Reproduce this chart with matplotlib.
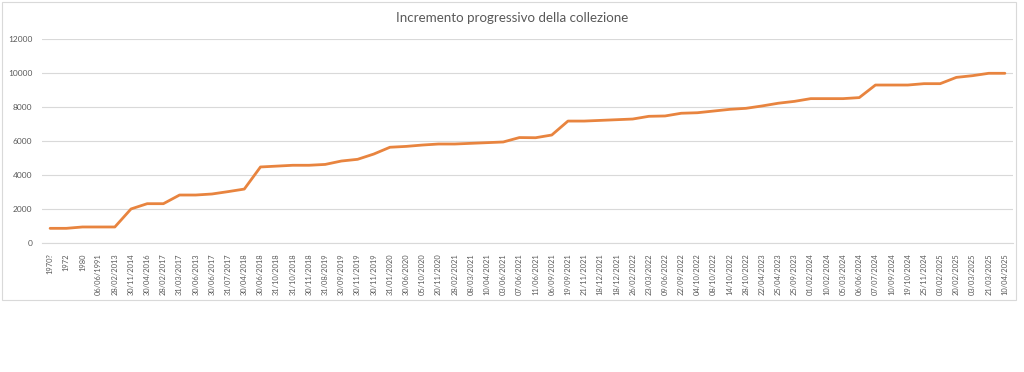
import matplotlib
matplotlib.use("Agg")
import matplotlib.pyplot as plt
from matplotlib.patches import Rectangle

title = "Incremento progressivo della collezione"

dates = [
    "1970?", "1972", "1980", "06/06/1991", "28/02/2013", "30/11/2014", "30/04/2016",
    "28/02/2017", "31/03/2017", "30/06/2013", "30/06/2017", "31/07/2017", "30/04/2018",
    "30/06/2018", "31/10/2018", "31/10/2018", "30/11/2018", "31/08/2019", "30/09/2019",
    "30/11/2019", "30/11/2019", "31/01/2020", "30/06/2020", "05/10/2020", "20/11/2020",
    "28/02/2021", "08/03/2021", "10/04/2021", "03/06/2021", "07/06/2021", "11/06/2021",
    "06/09/2021", "19/09/2021", "21/11/2021", "18/12/2021", "18/12/2021", "26/02/2022",
    "23/03/2022", "09/06/2022", "22/09/2022", "04/10/2022", "08/10/2022", "14/10/2022",
    "28/10/2022", "22/04/2023", "25/04/2023", "25/09/2023", "01/02/2024", "10/02/2024",
    "05/03/2024", "06/06/2024", "07/07/2024", "10/09/2024", "19/10/2024", "25/11/2024",
    "03/02/2025", "20/02/2025", "03/03/2025", "21/03/2025", "10/04/2025",
]

counts = [
    880, 880, 960, 960, 960, 2020, 2330,
    2330, 2840, 2840, 2900, 3040, 3190,
    4490, 4540, 4590, 4590, 4640, 4840,
    4940, 5250, 5650, 5700, 5780, 5840,
    5840, 5880, 5920, 5960, 6220, 6210,
    6370, 7190, 7190, 7230, 7270, 7310,
    7470, 7490, 7650, 7680, 7780, 7880,
    7940, 8080, 8240, 8350, 8510, 8510,
    8510, 8570, 9310, 9310, 9310, 9390,
    9390, 9760, 9860, 10000, 10000,
]

yticks = [0, 2000, 4000, 6000, 8000, 10000, 12000]

plt.rcParams["font.family"] = ["Lato", "DejaVu Sans"]

W, H = 1024, 372
fig = plt.figure(figsize=(W / 100, H / 100), dpi=100)
fig.patch.set_facecolor("white")

# chart-area border
fig.patches.append(Rectangle((2 / W, 1 - 300 / H), (1016 - 2) / W, (300 - 2) / H,
                             transform=fig.transFigure, fill=False,
                             edgecolor="#d9d9d9", linewidth=0.8))

left, right = 42 / W, 1013 / W
bottom, top = 1 - 243.3 / H, 1 - 39.3 / H
ax = fig.add_axes([left, bottom, right - left, top - bottom])

x = list(range(len(dates)))
ax.plot(x, counts, color="#E8843F", linewidth=2.0, solid_joinstyle="round",
        solid_capstyle="round", zorder=3)

ax.set_xlim(-0.5, len(dates) - 0.5)
ax.set_ylim(0, 12000)
ax.set_yticks(yticks)
ax.set_yticklabels([str(v) for v in yticks], fontsize=6, color="#595959")
ax.set_xticks(x)
ax.set_xticklabels(dates, rotation=90, fontsize=5.4, color="#595959")

ax.grid(axis="y", color="#d9d9d9", linewidth=0.8)
ax.set_axisbelow(True)
for s in ["top", "right", "left"]:
    ax.spines[s].set_visible(False)
ax.spines["bottom"].set_color("#d9d9d9")
ax.spines["bottom"].set_linewidth(0.8)
ax.tick_params(axis="both", length=0)
ax.tick_params(axis="y", pad=7)
ax.tick_params(axis="x", pad=7)

fig.text(512 / W, 1 - 18 / H, title, ha="center", va="center",
         fontsize=9.6, color="#595959")

fig.savefig("out.png", dpi=100, facecolor="white")
